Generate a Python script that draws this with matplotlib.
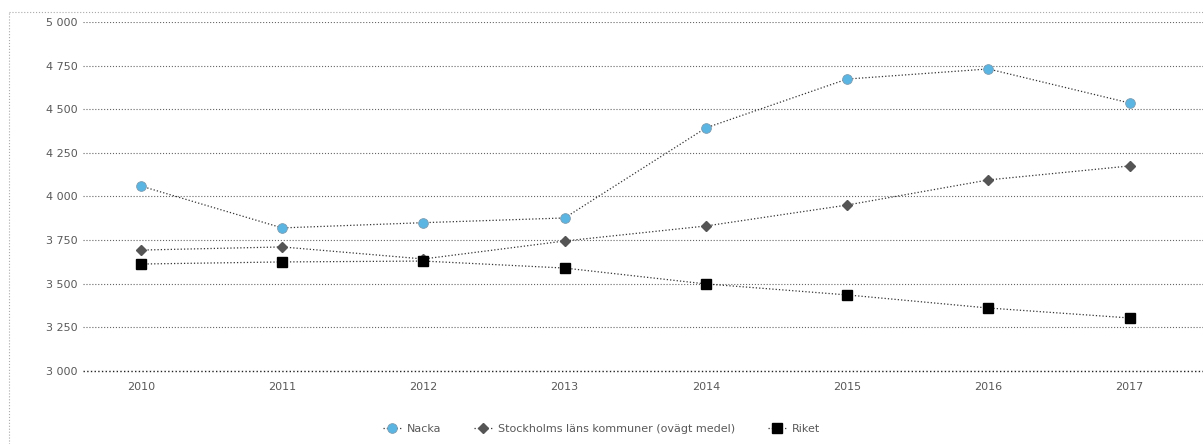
import matplotlib.pyplot as plt
from matplotlib.lines import Line2D
from matplotlib.ticker import FuncFormatter

years = [2010, 2011, 2012, 2013, 2014, 2015, 2016, 2017]
nacka = [4060, 3820, 3850, 3877, 4393, 4673, 4731, 4536]
stockholm = [3693, 3711, 3642, 3745, 3831, 3951, 4095, 4175]
riket = [3613, 3625, 3630, 3590, 3499, 3436, 3361, 3304]

labels = ["Nacka", "Stockholms läns kommuner (ovägt medel)", "Riket"]

W, H = 1203, 444
fig = plt.figure(figsize=(W / 100, H / 100), dpi=100)
# axes box in pixels: left 83, right 1203, top 22, bottom 371
ax = fig.add_axes([83 / W, 1 - 371 / H, (1203 - 83) / W, (371 - 22) / H])

text_col = "#595959"

ax.plot(years, nacka, linestyle=":", color="#333333", linewidth=0.9,
        marker="o", markersize=7, markerfacecolor="#5bb5e3",
        markeredgecolor="#7a9cb0", markeredgewidth=0.6, label=labels[0], zorder=3)
ax.plot(years, stockholm, linestyle=":", color="#333333", linewidth=0.9,
        marker="D", markersize=5, markerfacecolor="#555555",
        markeredgecolor="#555555", label=labels[1], zorder=3)
ax.plot(years, riket, linestyle=":", color="#333333", linewidth=0.9,
        marker="s", markersize=7, markerfacecolor="black",
        markeredgecolor="black", label=labels[2], zorder=3)

ax.set_ylim(3000, 5000)
ax.set_yticks(range(3000, 5001, 250))
ax.yaxis.set_major_formatter(FuncFormatter(lambda v, p: f"{int(v):,}".replace(",", " ")))
ax.set_xlim(2009.59, 2017.52)
ax.set_xticks(years)

ax.grid(axis="y", linestyle=":", color="#666666", linewidth=0.8)
ax.set_axisbelow(True)
for s in ax.spines.values():
    s.set_visible(False)
ax.tick_params(length=0, labelsize=8, colors=text_col, pad=4)
ax.tick_params(axis="x", pad=8)
ax.axhline(3000, color="#222222", linestyle=":", linewidth=1.0, clip_on=False)

fig.legend(loc="lower center", bbox_to_anchor=(0.5, 0.0), ncol=3, frameon=False,
           fontsize=8, labelcolor=text_col, handlelength=1.6, columnspacing=3.0,
           handletextpad=0.5)

# dotted outer frame (top + left)
fig.add_artist(Line2D([9 / W, 9 / W], [0, 1 - 12 / H], transform=fig.transFigure,
                      color="#aaaaaa", linestyle=":", linewidth=0.8))
fig.add_artist(Line2D([9 / W, 1], [1 - 12 / H, 1 - 12 / H], transform=fig.transFigure,
                      color="#aaaaaa", linestyle=":", linewidth=0.8))

fig.savefig("out.png", dpi=100)
